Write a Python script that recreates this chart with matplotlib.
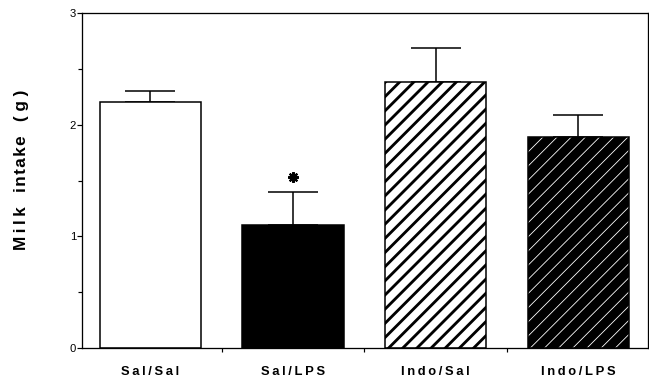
import numpy as np
import matplotlib
matplotlib.use("Agg")
import matplotlib.pyplot as plt
from matplotlib.ticker import MultipleLocator, FixedLocator

groups = ['Sal/Sal', 'Sal/LPS', 'Indo/Sal', 'Indo/LPS']
intake = [2.2, 1.1, 2.38, 1.89]
sem = [0.1, 0.3, 0.31, 0.2]
signif = [False, True, False, False]

DPI = 85
plt.rcParams['font.family'] = ['Liberation Sans', 'DejaVu Sans']

def spaced(s, sp='\u2009'):
    # the original labels are letter-spaced
    return sp.join(s)

fig = plt.figure(figsize=(649 / DPI, 380 / DPI), dpi=DPI)
ax = fig.add_axes([82 / 649, 32 / 380, 566 / 649, 335 / 380])

x = np.arange(len(groups))
w = 0.71
faces = ['white', 'black', 'white', 'black']
hatches = [None, None, '//', '//']
hatch_cols = ['black', 'black', 'black', 'white']
hatch_lw = [1, 1, 2.4, 0.7]

for i in range(len(groups)):
    # fill + hatch
    b = ax.bar(x[i], intake[i], w, color=faces[i], edgecolor=hatch_cols[i],
               hatch=hatches[i], linewidth=0, zorder=2)
    for p in b:
        if hasattr(p, 'set_hatch_linewidth'):
            p.set_hatch_linewidth(hatch_lw[i])
    # outline
    ax.bar(x[i], intake[i], w, color='none', edgecolor='black', linewidth=1.3, zorder=3)

ax.errorbar(x, intake, yerr=[np.zeros(len(x)), sem], fmt='none', ecolor='black',
            elinewidth=1.3, capsize=21, capthick=1.3, zorder=1)

for i in range(len(groups)):
    if signif[i]:
        ax.plot(x[i], intake[i] + sem[i] + 0.13, marker=(8, 2, 0), ms=9,
                mew=1.8, color='black')

ax.set_xlim(-0.48, 3.49)
ax.set_ylim(0, 3)
ax.yaxis.set_major_locator(MultipleLocator(1))
ax.yaxis.set_minor_locator(MultipleLocator(0.5))
ax.tick_params(axis='y', which='major', direction='out', length=4, width=1,
               labelsize=9.5, pad=1)
ax.tick_params(axis='y', which='minor', direction='out', length=3, width=1)

ax.set_xticks(x)
ax.set_xticklabels([spaced(g) for g in groups], fontsize=11, fontweight='bold')
ax.xaxis.set_minor_locator(FixedLocator([0.5, 1.5, 2.5]))
ax.tick_params(axis='x', which='major', length=0, pad=15)
ax.tick_params(axis='x', which='minor', direction='out', length=3, width=1)

for s in ax.spines.values():
    s.set_linewidth(1.1)

ylab = spaced('Milk') + '   ' + spaced('intake', '\u200a') + '   ' + '( g )'
ax.set_ylabel(ylab, fontsize=14.5, fontweight='bold')
ax.yaxis.set_label_coords(-0.094, 0.533)

fig.savefig('out.png', dpi=DPI)
